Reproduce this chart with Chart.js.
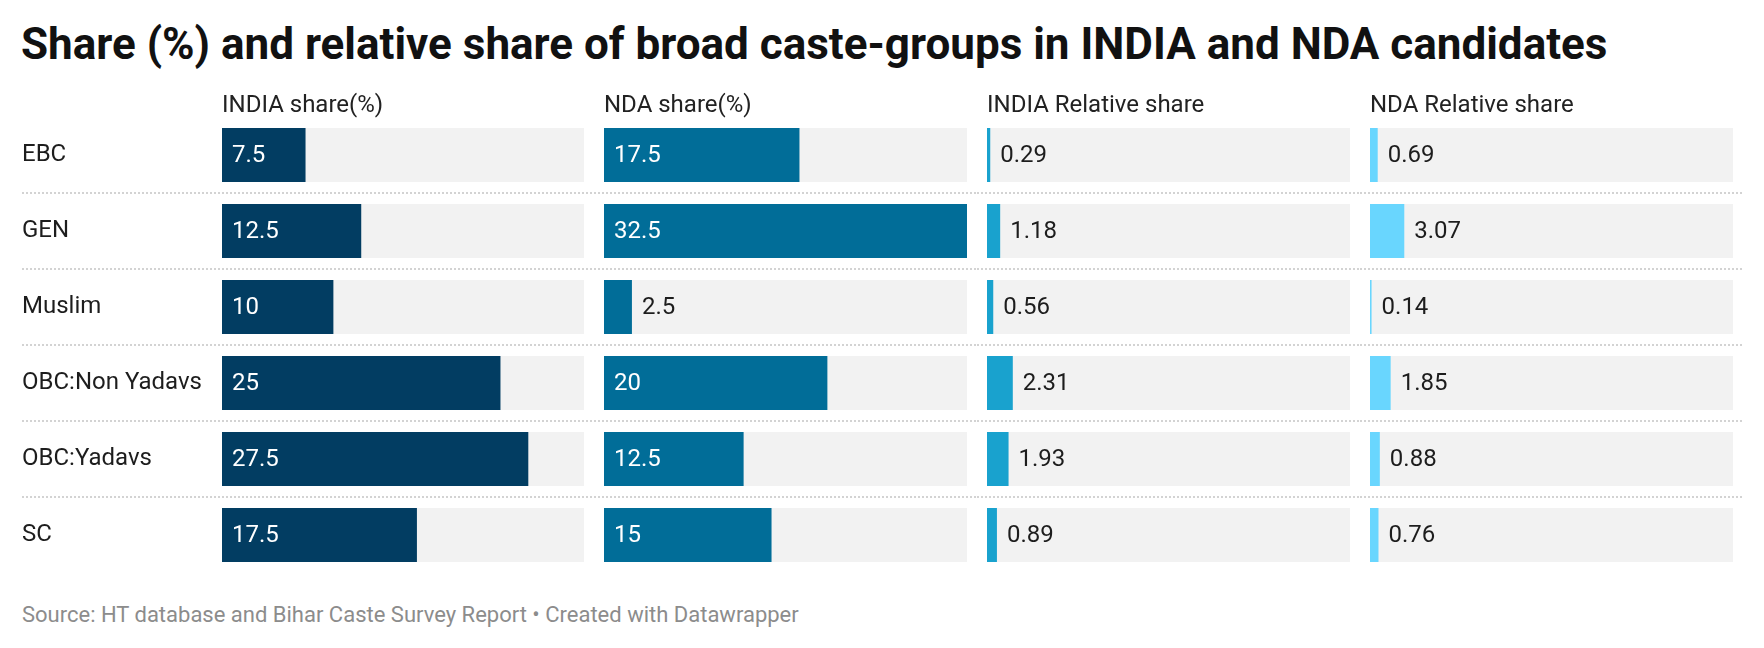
<!DOCTYPE html>
<html>
<head>
<meta charset="utf-8">
<script src="https://cdn.jsdelivr.net/npm/chart.js@4.4.1/dist/chart.umd.min.js"></script>
<style>
    html, body { margin: 0; padding: 0; background: #fff; }
    #wrap { position: relative; width: 1764px; height: 648px; overflow: hidden; font-family: Roboto, "Noto Sans", sans-serif; }
    #wrap canvas { position: absolute; top: 0; }
    .txt { position: absolute; white-space: nowrap; line-height: 1; }
    #title { left: 21px; top: 21.5px; font-size: 44px; font-weight: 700; color: #111; }
    .head { top: 91.5px; font-size: 24px; color: #222; }
    #footer { left: 22px; top: 603.5px; font-size: 22px; color: #8c8c8c; }
</style>
</head>
<body>
<div id="wrap">
    <div id="title" class="txt">Share (%) and relative share of broad caste-groups in INDIA and NDA candidates</div>
    <div id="footer" class="txt">Source: HT database and Bihar Caste Survey Report • Created with Datawrapper</div>
</div>
<script>
// Datos del gráfico
const categories = ['EBC', 'GEN', 'Muslim', 'OBC:Non Yadavs', 'OBC:Yadavs', 'SC'];
const indiaShare = [7.5, 12.5, 10, 25, 27.5, 17.5];
const ndaShare = [17.5, 32.5, 2.5, 20, 12.5, 15];
const indiaRelative = [0.29, 1.18, 0.56, 2.31, 1.93, 0.89];
const ndaRelative = [0.69, 3.07, 0.14, 1.85, 0.88, 0.76];
const panelTitles = ['INDIA share(%)', 'NDA share(%)', 'INDIA Relative share', 'NDA Relative share'];
const axisMax = 32.5;

const panelColors = ['#023d62', '#016d98', '#19a2ce', '#69d6fe'];
const panelValues = [indiaShare, ndaShare, indiaRelative, ndaRelative];

// posición de cada canvas y padding del área del gráfico
const panelBoxes = [
    { left: 0, width: 594, padLeft: 22, padRight: 10, sepFrom: 22 },
    { left: 594, width: 383, padLeft: 10, padRight: 10, sepFrom: 0 },
    { left: 977, width: 383, padLeft: 10, padRight: 10, sepFrom: 0 },
    { left: 1360, width: 404, padLeft: 10, padRight: 31, sepFrom: 0, sepTo: 382 },
];

const labelFont = '24px Roboto, "Noto Sans", sans-serif';

// líneas punteadas entre filas
const separatorPlugin = {
    id: 'separators',
    beforeDatasetsDraw(chart, args, opts) {
        const y = chart.scales.y;
        const ctx = chart.ctx;
        ctx.save();
        ctx.strokeStyle = '#d3d3d3';
        ctx.lineWidth = 2;
        ctx.setLineDash([2, 2]);
        for (let i = 0; i < categories.length - 1; i++) {
            const py = Math.round((y.getPixelForValue(i) + y.getPixelForValue(i + 1)) / 2);
            ctx.beginPath();
            ctx.moveTo(opts.from, py);
            ctx.lineTo(opts.to, py);
            ctx.stroke();
        }
        ctx.restore();
    },
};

// etiquetas de valor (dentro de la barra si cabe, fuera si no)
const valueLabelPlugin = {
    id: 'valueLabels',
    afterDatasetsDraw(chart) {
        const ctx = chart.ctx;
        const meta = chart.getDatasetMeta(0);
        const values = chart.data.datasets[0].data;
        ctx.save();
        ctx.font = labelFont;
        ctx.textBaseline = 'middle';
        ctx.textAlign = 'left';
        meta.data.forEach((bar, i) => {
            const { x, y, base } = bar.getProps(['x', 'y', 'base'], true);
            const text = String(values[i]);
            const w = ctx.measureText(text).width;
            if (x - base > w + 20) {
                ctx.fillStyle = '#ffffff';
                ctx.fillText(text, base + 10, y + 1);
            } else {
                ctx.fillStyle = '#1d1d1d';
                ctx.fillText(text, x + 10, y + 1);
            }
        });
        ctx.restore();
    },
};

const wrap = document.getElementById('wrap');

panelValues.forEach((values, p) => {
    const box = panelBoxes[p];
    const isFirst = p === 0;

    const canvas = document.createElement('canvas');
    canvas.width = box.width;
    canvas.height = 648;
    canvas.style.left = box.left + 'px';
    canvas.style.width = box.width + 'px';
    canvas.style.height = '648px';
    wrap.appendChild(canvas);

    // título de la columna
    const head = document.createElement('div');
    head.className = 'txt head';
    head.style.left = (box.left + box.padLeft + (isFirst ? 200 : 0)) + 'px';
    head.textContent = panelTitles[p];
    wrap.appendChild(head);

    new Chart(canvas.getContext('2d'), {
        type: 'bar',
        data: {
            labels: categories,
            datasets: [
                {
                    data: values,
                    backgroundColor: panelColors[p],
                    grouped: false,
                    order: 0,
                    barPercentage: 54 / 76,
                    categoryPercentage: 1,
                },
                {
                    data: categories.map(() => axisMax), // fondo gris de cada fila
                    backgroundColor: '#f2f2f2',
                    grouped: false,
                    order: 1,
                    barPercentage: 54 / 76,
                    categoryPercentage: 1,
                },
            ],
        },
        options: {
            indexAxis: 'y',
            responsive: false,
            animation: false,
            events: [],
            layout: {
                padding: { left: box.padLeft, right: box.padRight, top: 117, bottom: 75 },
            },
            plugins: {
                legend: { display: false },
                tooltip: { enabled: false },
                separators: { from: box.sepFrom, to: box.sepTo || box.width },
            },
            scales: {
                x: { display: false, min: 0, max: axisMax },
                y: {
                    display: isFirst,
                    grid: { display: false },
                    border: { display: false },
                    ticks: {
                        crossAlign: 'far',
                        padding: 0,
                        color: '#1d1d1d',
                        font: { family: 'Roboto, "Noto Sans", sans-serif', size: 24 },
                    },
                    afterFit: (scale) => { if (isFirst) scale.width = 200; },
                },
            },
        },
        plugins: [separatorPlugin, valueLabelPlugin],
    });
});
</script>
</body>
</html>
